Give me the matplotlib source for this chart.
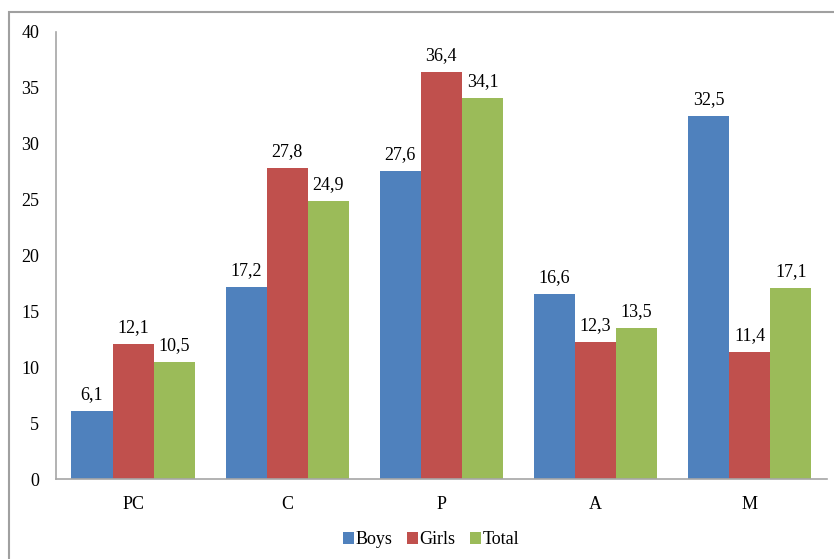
import matplotlib
matplotlib.use("Agg")
import matplotlib.pyplot as plt
from matplotlib.patches import Rectangle
import numpy as np

categories = ["PC", "C", "P", "A", "M"]
boys = [6.1, 17.2, 27.6, 16.6, 32.5]
girls = [12.1, 27.8, 36.4, 12.3, 11.4]
total = [10.5, 24.9, 34.1, 13.5, 17.1]
series_names = ["Boys", "Girls", "Total"]
y_ticks = [0, 5, 10, 15, 20, 25, 30, 35, 40]

colors = ["#4F81BD", "#C0504D", "#9BBB59"]
axis_gray = "#A6A6A6"

plt.rcParams["font.family"] = ["Liberation Serif", "DejaVu Serif"]
plt.rcParams["font.size"] = 13

fig = plt.figure(figsize=(8.34, 5.59), dpi=100)
W, H = 834, 559

# outer chart frame
fig.patches.append(Rectangle((9 / W, -0.1), 1.2, 1 - 12 / H + 0.1,
                             transform=fig.transFigure, fill=False,
                             edgecolor="#A0A0A0", linewidth=1.5))

ax = fig.add_axes([56 / W, 1 - 479.3 / H, (826.7 - 56) / W, (479.3 - 32) / H])

x = np.arange(len(categories))
bw = 0.8 / 3
for i, (vals, name) in enumerate(zip([boys, girls, total], series_names)):
    xs = x - bw + i * bw
    ax.bar(xs, vals, width=bw, color=colors[i], label=name, linewidth=0)
    for xi, v in zip(xs, vals):
        ax.annotate(f"{v:.1f}".replace(".", ","), (xi, v),
                    xytext=(0, 8.6), textcoords="offset points",
                    ha="center", va="baseline", color="black")

ax.set_xlim(-0.5, len(categories) - 0.5)
ax.set_ylim(0, 40)
ax.set_yticks(y_ticks)
ax.set_yticklabels([str(t) for t in y_ticks])
ax.set_xticks(x)
ax.set_xticklabels(categories)
ax.tick_params(axis="both", length=0, pad=12.2, colors="black")

for s in ["top", "right"]:
    ax.spines[s].set_visible(False)
for s in ["left", "bottom"]:
    ax.spines[s].set_color(axis_gray)
    ax.spines[s].set_linewidth(1.2)

fig.legend(loc="center", bbox_to_anchor=(431 / W, 1 - 540 / H), ncol=3,
           frameon=False, handlelength=0.6, handleheight=0.6,
           handletextpad=0.1, columnspacing=0.8, borderpad=0)

fig.savefig("out.png", dpi=100)
